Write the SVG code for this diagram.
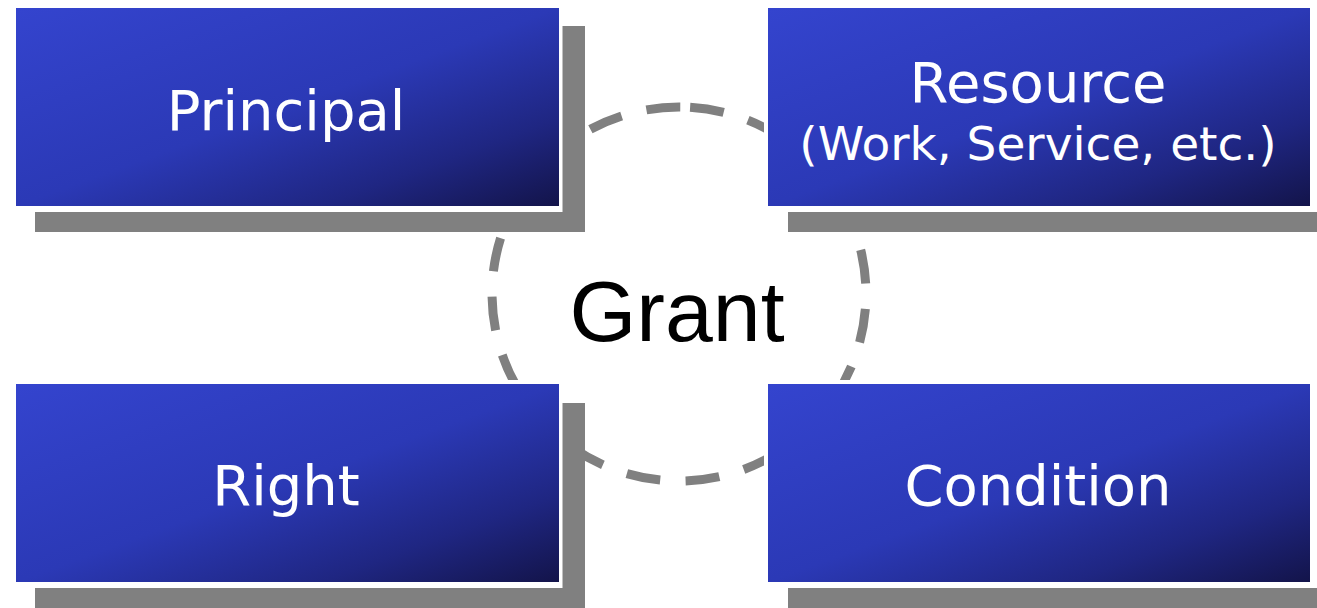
<svg xmlns="http://www.w3.org/2000/svg" width="1317" height="608" viewBox="0 0 1317 608">
  <defs>
    <linearGradient id="boxGrad" x1="0" y1="0" x2="1" y2="1">
      <stop offset="0" stop-color="#3444ce"/>
      <stop offset="0.5" stop-color="#2b39b6"/>
      <stop offset="0.78" stop-color="#1f2682"/>
      <stop offset="1" stop-color="#13144a"/>
    </linearGradient>
  </defs>
  <style>
    .shadow { fill: #808080; }
    .border { fill: #ffffff; }
    .box { fill: url(#boxGrad); }
    .label { font-family: "DejaVu Sans", Verdana, sans-serif; fill: #ffffff; text-anchor: middle; }
    .ring { fill: none; stroke: #808080; stroke-width: 9; stroke-dasharray: 34 25.5; }
    .grant { font-family: "Liberation Sans", Arial, sans-serif; font-size: 86px; fill: #000000; text-anchor: middle; }
  </style>
  <rect width="1317" height="608" fill="#ffffff"/>

  <g id="connectors">
    <path class="ring" d="M 690.1 107.3 A 187 187 0 0 1 667.9 480.7 A 187 187 0 0 1 690.1 107.3"/>
  </g>

  <g id="principal">
    <rect class="shadow" x="35" y="26" width="550" height="206"/>
    <rect class="border" x="12" y="4" width="550.5" height="208"/>
    <rect class="box" x="16" y="8" width="543" height="198"/>
    <text class="label" x="286" y="130" font-size="56">Principal</text>
  </g>

  <g id="resource">
    <rect class="shadow" x="788" y="26" width="529" height="206"/>
    <rect class="border" x="764" y="4" width="553" height="208"/>
    <rect class="box" x="768" y="8" width="542" height="198"/>
    <text class="label" x="1038" y="102" font-size="56">Resource</text>
    <text class="label" x="1038" y="160" font-size="47">(Work, Service, etc.)</text>
  </g>

  <g id="right">
    <rect class="shadow" x="35" y="403" width="550" height="210"/>
    <rect class="border" x="12" y="380" width="550.5" height="208"/>
    <rect class="box" x="16" y="384" width="543" height="198"/>
    <text class="label" x="286" y="505" font-size="56">Right</text>
  </g>

  <g id="condition">
    <rect class="shadow" x="788" y="403" width="529" height="210"/>
    <rect class="border" x="764" y="380" width="553" height="208"/>
    <rect class="box" x="768" y="384" width="542" height="198"/>
    <text class="label" x="1038" y="505" font-size="56">Condition</text>
  </g>

  <g id="grant">
    <text class="grant" x="677" y="341">Grant</text>
  </g>
</svg>
